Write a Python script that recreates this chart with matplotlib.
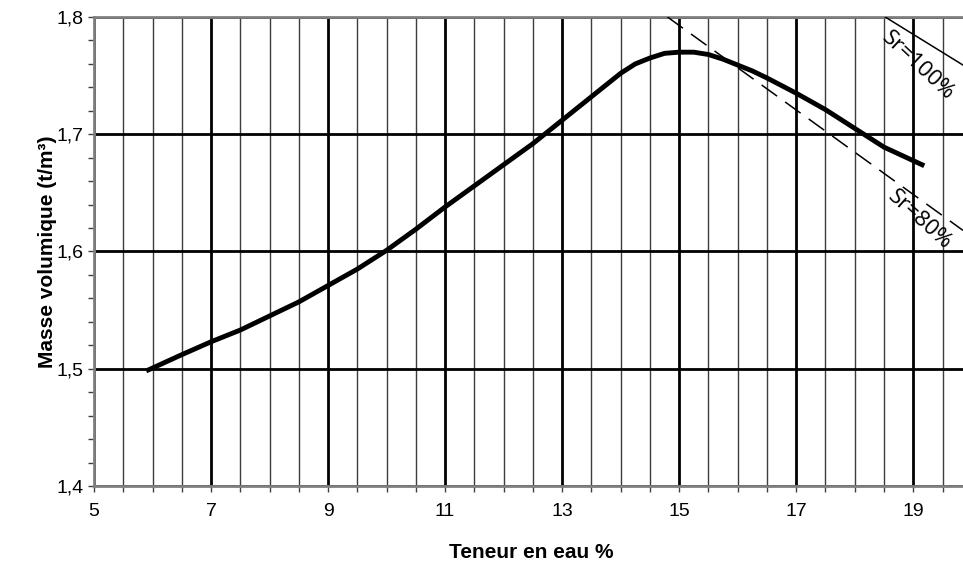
"""Proctor curve: dry density vs water content, with saturation lines."""

import matplotlib
matplotlib.use("Agg")
import matplotlib.pyplot as plt
from matplotlib.ticker import FixedLocator, MultipleLocator, FuncFormatter

# Proctor curve
water = [5.93, 6.5, 7.0, 7.5, 8.0, 8.5, 9.0, 9.5, 10.0, 10.5, 11.0, 11.5, 12.0,
         12.5, 13.0, 13.5, 13.75, 14.0, 14.25, 14.5, 14.75, 15.0, 15.25, 15.5,
         15.75, 16.0, 16.25, 16.5, 17.0, 17.5, 18.0, 18.5, 19.15]
density = [1.499, 1.512, 1.523, 1.533, 1.545, 1.557, 1.571, 1.585, 1.601,
           1.619, 1.638, 1.656, 1.674, 1.692, 1.712, 1.732, 1.742, 1.752,
           1.760, 1.765, 1.769, 1.770, 1.770, 1.768, 1.764, 1.759, 1.754,
           1.748, 1.735, 1.721, 1.705, 1.689, 1.674]

# saturation lines (end points)
sr100_w = [18.52, 19.85]
sr100_rho = [1.800, 1.759]
sr80_w = [14.80, 19.85]
sr80_rho = [1.800, 1.618]

x_ticks = [5, 7, 9, 11, 13, 15, 17, 19]
y_ticks = [1.4, 1.5, 1.6, 1.7, 1.8]

plt.rcParams["font.family"] = ["Liberation Sans", "DejaVu Sans"]

fig = plt.figure(figsize=(9.63, 5.63), dpi=100)
ax = fig.add_axes([94 / 963, 1 - 486 / 563, 1 - 94 / 963, 469 / 563])

ax.set_xlim(5, 19.85)
ax.set_ylim(1.4, 1.8)

ax.xaxis.set_major_locator(FixedLocator(x_ticks))
ax.xaxis.set_minor_locator(MultipleLocator(0.5))
ax.yaxis.set_major_locator(FixedLocator(y_ticks))
ax.yaxis.set_minor_locator(MultipleLocator(0.02))
ax.yaxis.set_major_formatter(FuncFormatter(lambda v, p: f"{v:.1f}".replace(".", ",")))

# grid: thin every 0.5 %, thick on odd values and every 0.1 t/m3
ax.xaxis.grid(True, which="minor", color="#3c3c3c", linewidth=1.0)
ax.xaxis.grid(True, which="major", color="black", linewidth=2.0)
ax.yaxis.grid(True, which="major", color="black", linewidth=2.0)
ax.set_axisbelow(True)

ax.tick_params(axis="both", which="both", direction="out", length=4,
               width=1.0, color="#404040", labelsize=14)
ax.tick_params(axis="x", pad=8)

for side in ("left", "bottom", "top"):
    ax.spines[side].set_color("#808080")
    ax.spines[side].set_linewidth(2.0)
ax.spines["right"].set_visible(False)

ax.plot(water, density, color="black", linewidth=3.5, zorder=5,
        solid_joinstyle="round")
ax.plot(sr100_w, sr100_rho, color="black", linewidth=1.1, zorder=4)
ax.plot(sr80_w, sr80_rho, color="black", linewidth=1.1, zorder=4,
        dashes=(12.5, 6.5))

ax.text(19.08, 1.758, "Sr=100%", rotation=-43, ha="center", va="center",
        fontsize=16, family=["Open Sans", "DejaVu Sans"], zorder=6)
ax.text(19.11, 1.627, "Sr=80%", rotation=-42, ha="center", va="center",
        fontsize=16, family=["Open Sans", "DejaVu Sans"], zorder=6)

ax.set_xlabel("Teneur en eau %", fontsize=15, fontweight="bold")
ax.set_ylabel("Masse volumique (t/m³)", fontsize=15, fontweight="bold")
ax.xaxis.set_label_coords((531 - 94) / (963 - 94), -(543 - 486) / 469)
ax.yaxis.set_label_coords(-(94 - 57) / (963 - 94), 0.5)

fig.savefig("out.png", dpi=100)
